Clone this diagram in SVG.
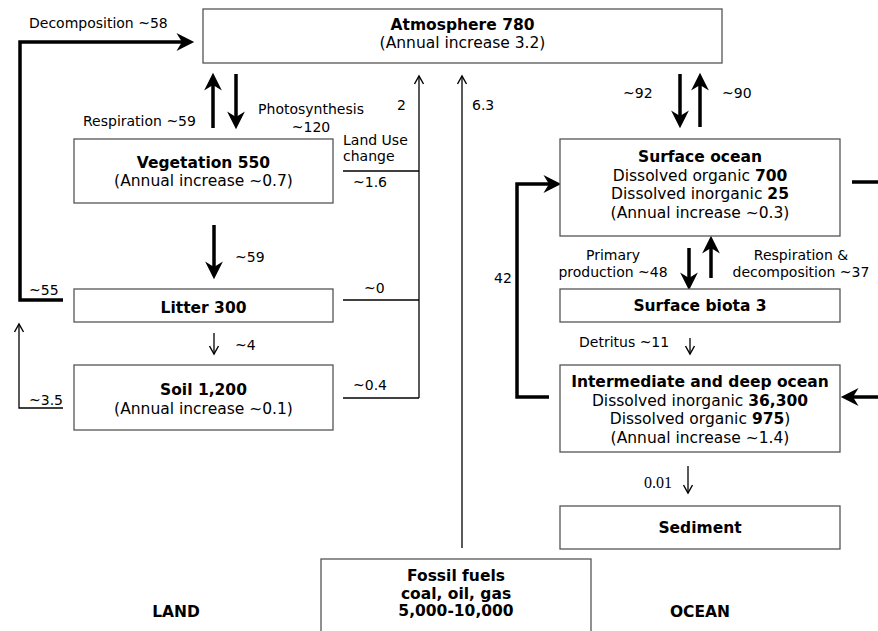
<svg xmlns="http://www.w3.org/2000/svg" width="878" height="631" viewBox="0 0 878 631">
<style>
  .box { fill: #fff; stroke: #555; stroke-width: 1.3; }
  text { font-family: "DejaVu Sans", Verdana, sans-serif; fill: #000; }
  .t { font-size: 15.5px; text-anchor: middle; }
  .b { font-weight: bold; }
  .lab { font-size: 14px; }
  .mid { text-anchor: middle; }
  .serif { font-family: "Liberation Serif", "Times New Roman", serif; }
  .thick { fill: none; stroke: #000; stroke-width: 3.5; marker-end: url(#big); }
  .thickn { fill: none; stroke: #000; stroke-width: 3.5; }
  .thin { fill: none; stroke: #000; stroke-width: 1.3; }
  .thina { fill: none; stroke: #000; stroke-width: 1.3; marker-end: url(#small); }
</style>
<defs>
  <marker id="big" markerUnits="userSpaceOnUse" markerWidth="20" markerHeight="20" viewBox="0 -9 17 18" refX="5" refY="0" orient="auto" overflow="visible">
    <path d="M16,0 L0,-8 L5,0 L0,8 Z" fill="#000"/>
  </marker>
  <marker id="small" markerUnits="userSpaceOnUse" markerWidth="12" markerHeight="12" viewBox="-10 -6 12 12" refX="0" refY="0" orient="auto" overflow="visible">
    <path d="M-8,-4.5 L0,0 L-8,4.5" fill="none" stroke="#000" stroke-width="1.4"/>
  </marker>
</defs>

<g id="connectors">
  <path class="thick" d="M63,300 H20 V42 H182"/>
  <path class="thina" d="M63,408 H19 V324"/>
  <path class="thick" d="M213,128 V85"/>
  <path class="thick" d="M236,74 V117"/>
  <path class="thick" d="M214,225 V267"/>
  <path class="thina" d="M214,333 V354"/>
  <path class="thina" d="M419,398 V76"/>
  <path class="thin" d="M343,171 H419"/>
  <path class="thin" d="M343,300 H419"/>
  <path class="thin" d="M343,398 H419"/>
  <path class="thina" d="M462,548 V76"/>
  <path class="thick" d="M680,74 V116"/>
  <path class="thick" d="M700,127 V85"/>
  <path class="thickn" d="M852,182 H878"/>
  <path class="thick" d="M549,397 H517 V184 H549"/>
  <path class="thick" d="M689,248 V278"/>
  <path class="thick" d="M711,278 V248"/>
  <path class="thina" d="M690,338 V354"/>
  <path class="thick" d="M878,397 H853"/>
  <path class="thina" d="M688,466 V493"/>
</g>

<g id="labels">
  <text class="lab" x="29" y="28">Decomposition ~58</text>
  <text class="lab" x="83" y="126">Respiration ~59</text>
  <text class="lab mid" x="311" y="114">Photosynthesis</text>
  <text class="lab mid" x="311" y="132">~120</text>
  <text class="lab" x="397" y="110">2</text>
  <text class="lab" x="343" y="145">Land Use</text>
  <text class="lab" x="343" y="161">change</text>
  <text class="lab" x="353" y="187">~1.6</text>
  <text class="lab" x="472" y="110">6.3</text>
  <text class="lab" x="235" y="262">~59</text>
  <text class="lab" x="29" y="295">~55</text>
  <text class="lab" x="364" y="293">~0</text>
  <text class="lab" x="235" y="350">~4</text>
  <text class="lab" x="29" y="405">~3.5</text>
  <text class="lab" x="353" y="390">~0.4</text>
  <text class="lab" x="623" y="98">~92</text>
  <text class="lab" x="722" y="98">~90</text>
  <text class="lab" x="494" y="283">42</text>
  <text class="lab mid" x="613" y="260">Primary</text>
  <text class="lab mid" x="613" y="277">production ~48</text>
  <text class="lab mid" x="801" y="260">Respiration &amp;</text>
  <text class="lab mid" x="801" y="277">decomposition ~37</text>
  <text class="lab" x="579" y="347">Detritus ~11</text>
  <text class="lab serif" x="644" y="488" style="font-size:16px">0.01</text>
  <text class="t b" x="176" y="617">LAND</text>
  <text class="t b" x="700" y="617">OCEAN</text>
</g>

<g id="atmosphere">
  <rect class="box" x="203" y="9" width="519" height="54"/>
  <text class="t b" x="462.5" y="30">Atmosphere 780</text>
  <text class="t" x="462.5" y="48">(Annual increase 3.2)</text>
</g>
<g id="vegetation">
  <rect class="box" x="74" y="139" width="259" height="64"/>
  <text class="t b" x="203.5" y="168">Vegetation 550</text>
  <text class="t" x="203.5" y="186">(Annual increase ~0.7)</text>
</g>
<g id="litter">
  <rect class="box" x="74" y="289" width="259" height="33"/>
  <text class="t b" x="203.5" y="313">Litter 300</text>
</g>
<g id="soil">
  <rect class="box" x="74" y="365" width="259" height="65"/>
  <text class="t b" x="203.5" y="395">Soil 1,200</text>
  <text class="t" x="203.5" y="414">(Annual increase ~0.1)</text>
</g>
<g id="surface-ocean">
  <rect class="box" x="560" y="139" width="280" height="97"/>
  <text class="t b" x="700" y="162">Surface ocean</text>
  <text class="t" x="700" y="180.5">Dissolved organic <tspan class="b">700</tspan></text>
  <text class="t" x="700" y="199">Dissolved inorganic <tspan class="b">25</tspan></text>
  <text class="t" x="700" y="217.5">(Annual increase ~0.3)</text>
</g>
<g id="surface-biota">
  <rect class="box" x="560" y="289" width="280" height="33"/>
  <text class="t b" x="700" y="311">Surface biota 3</text>
</g>
<g id="deep-ocean">
  <rect class="box" x="560" y="365" width="280" height="87"/>
  <text class="t b" x="700" y="387">Intermediate and deep ocean</text>
  <text class="t" x="700" y="405.5">Dissolved inorganic <tspan class="b">36,300</tspan></text>
  <text class="t" x="700" y="424">Dissolved organic <tspan class="b">975</tspan>)</text>
  <text class="t" x="700" y="442.5">(Annual increase ~1.4)</text>
</g>
<g id="sediment">
  <rect class="box" x="560" y="506" width="280" height="43"/>
  <text class="t b" x="700" y="533">Sediment</text>
</g>
<g id="fossil-fuels">
  <rect class="box" x="321" y="559" width="270" height="80"/>
  <text class="t b" x="456" y="581">Fossil fuels</text>
  <text class="t b" x="456" y="598.5">coal, oil, gas</text>
  <text class="t b" x="456" y="616">5,000-10,000</text>
</g>
</svg>
